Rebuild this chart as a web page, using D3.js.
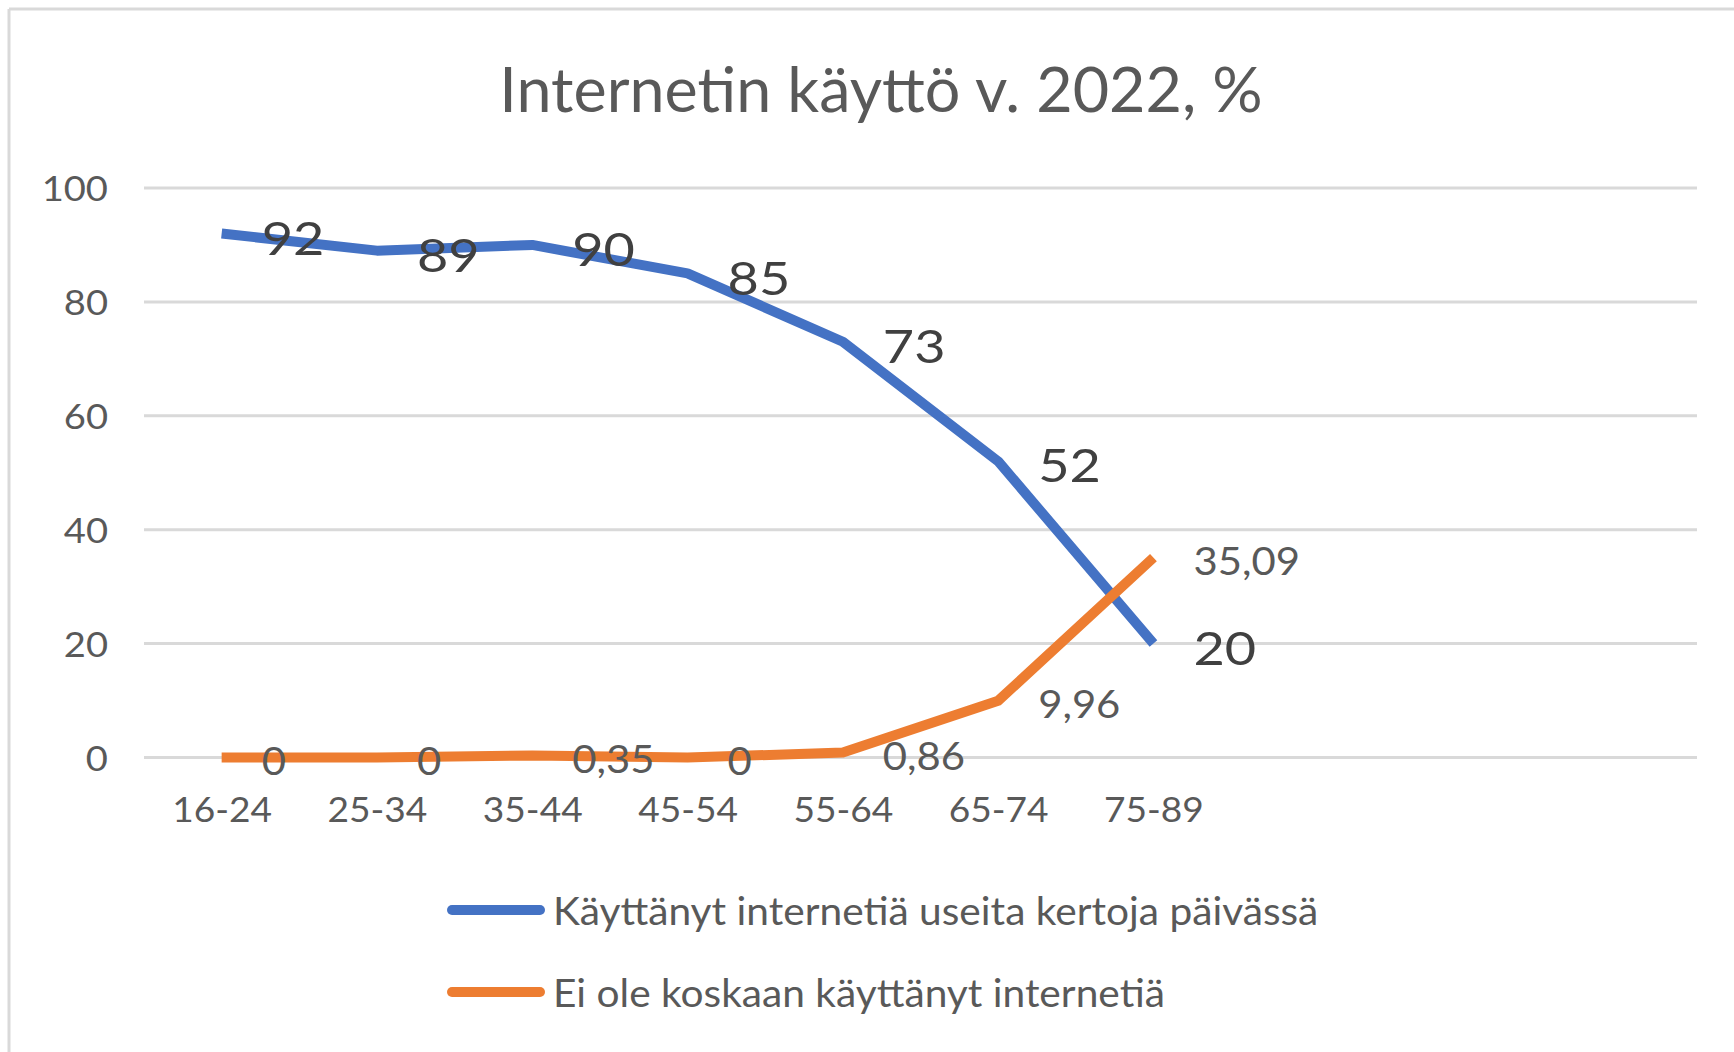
<!DOCTYPE html>
<html>
<head>
<meta charset="utf-8">
<script src="https://cdn.jsdelivr.net/npm/d3@7"></script>
<style>
  html, body { margin: 0; padding: 0; background: #fff; }
  svg { display: block; }
  text { font-family: Lato, "Open Sans", sans-serif; }
</style>
</head>
<body>
<svg id="chart" width="1734" height="1052"></svg>
<script>
const categories = ["16-24", "25-34", "35-44", "45-54", "55-64", "65-74", "75-89"];
const dailyUse = [92, 89, 90, 85, 73, 52, 20];
const neverUsed = [0, 0, 0.35, 0, 0.86, 9.96, 35.09];
const yTicks = [0, 20, 40, 60, 80, 100];
const seriesNames = ["Käyttänyt internetiä useita kertoja päivässä", "Ei ole koskaan käyttänyt internetiä"];
const titleText = "Internetin käyttö v. 2022, %";

const W = 1734, H = 1052;
const svg = d3.select("#chart");
const plot = { left: 144, right: 1697, top: 188, bottom: 757.5 };
const slots = 10; // category slots on the axis (last three empty)
const bw = (plot.right - plot.left) / slots;

const x = d3.scalePoint().domain(categories)
  .range([plot.left + bw / 2, plot.left + bw / 2 + bw * (categories.length - 1)]);
const y = d3.scaleLinear().domain([0, 100]).range([plot.bottom, plot.top]);

// chart border (top & left visible)
svg.append("line").attr("x1", 9).attr("x2", W).attr("y1", 9).attr("y2", 9)
  .attr("stroke", "#d9d9d9").attr("stroke-width", 3);
svg.append("line").attr("x1", 9).attr("x2", 9).attr("y1", 9).attr("y2", H)
  .attr("stroke", "#d9d9d9").attr("stroke-width", 3);

function stretch(sel, anchorX, anchorY, sx) {
  sel.attr("x", 0).attr("y", 0)
     .attr("transform", `translate(${anchorX},${anchorY}) scale(${sx},1)`);
  return sel;
}

// title
stretch(svg.append("text").text(titleText)
  .attr("text-anchor", "middle").attr("font-size", 61).attr("fill", "#595959"), 881, 112, 1.03);

// gridlines
svg.append("g").selectAll("line").data(yTicks).join("line")
  .attr("x1", plot.left).attr("x2", plot.right)
  .attr("y1", d => y(d)).attr("y2", d => y(d))
  .attr("stroke", "#d9d9d9").attr("stroke-width", 3);

// y axis via d3.axisLeft
const yAxis = svg.append("g").attr("transform", `translate(${plot.left - 36},0)`)
  .call(d3.axisLeft(y).tickValues(yTicks).tickSize(0).tickPadding(0));
yAxis.select(".domain").remove();
yAxis.selectAll(".tick text").each(function () {
  const t = d3.select(this);
  t.attr("font-size", 35).attr("fill", "#595959").attr("font-family", "Lato, sans-serif")
   .attr("dy", "0.36em").attr("transform", "scale(1.09,1)");
});

// x axis
const xAxis = svg.append("g").attr("transform", `translate(0,${plot.bottom + 40})`)
  .call(d3.axisBottom(x).tickSize(0).tickPadding(0));
xAxis.select(".domain").remove();
xAxis.selectAll(".tick text").attr("font-size", 35).attr("fill", "#595959")
  .attr("font-family", "Lato, sans-serif").attr("dy", "0.71em").attr("transform", "scale(1.06,1)");

const line = d3.line().x((d, i) => x(categories[i])).y(d => y(d));

const series = [
  { name: seriesNames[0], values: dailyUse, color: "#4472C4", labelSize: 47, labelSx: 1.15, labelColor: "#404040", fmt: d => String(d) },
  { name: seriesNames[1], values: neverUsed, color: "#ED7D31", labelSize: 38, labelSx: 1.1, labelColor: "#595959", fmt: d => String(d).replace(".", ",") }
];

series.forEach(s => {
  svg.append("path").datum(s.values).attr("d", line)
    .attr("fill", "none").attr("stroke", s.color).attr("stroke-width", 10)
    .attr("stroke-linejoin", "round").attr("stroke-linecap", "butt");
});

series.forEach(s => {
  const g = svg.append("g");
  s.values.forEach((v, i) => {
    stretch(g.append("text").text(s.fmt(v))
      .attr("font-size", s.labelSize).attr("fill", s.labelColor)
      .attr("dominant-baseline", "central"), x(categories[i]) + 40, y(v) + 3, s.labelSx);
  });
});

// legend
const legendY = [910, 992];
series.forEach((s, i) => {
  svg.append("line").attr("x1", 452).attr("x2", 540)
    .attr("y1", legendY[i]).attr("y2", legendY[i])
    .attr("stroke", s.color).attr("stroke-width", 10).attr("stroke-linecap", "round");
  stretch(svg.append("text").text(s.name).attr("font-size", 38).attr("fill", "#595959")
    .attr("dominant-baseline", "central"), 553, legendY[i], 1.07);
});
</script>
</body>
</html>
